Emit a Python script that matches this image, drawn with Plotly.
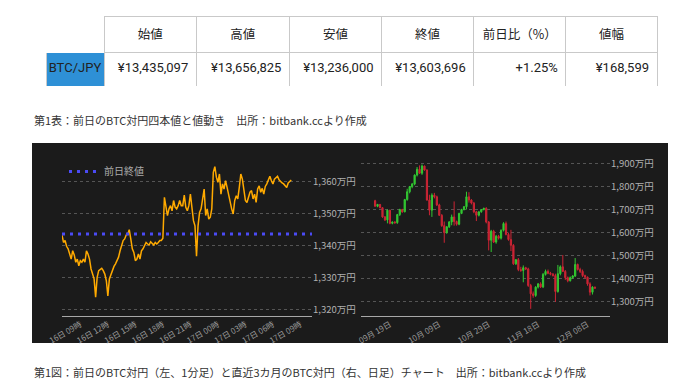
import plotly.graph_objects as go
import pandas as pd

# ---------------- table data ----------------
table_header = ["", "始値", "高値", "安値", "終値", "前日比（%）", "値幅"]
table_row = ["BTC/JPY", "¥13,435,097", "¥13,656,825", "¥13,236,000", "¥13,603,696", "+1.25%", "¥168,599"]
prev_close = 1343.5097  # 万円

# ---------------- left chart: previous day (10-min samples), 万円 ----------------
intraday_start = "2024-12-16 07:00"
intraday_values = [
    1343.2, 1340.9, 1341.5, 1339.7, 1338.9, 1337.3, 1335.7, 1338.3, 1337.0, 1334.7,
    1335.7, 1333.6, 1335.2, 1334.7, 1335.7, 1334.7, 1338.3, 1337.3, 1335.7, 1332.6,
    1331.0, 1329.5, 1323.8, 1330.0, 1332.1, 1332.6, 1332.8, 1332.1, 1331.0, 1329.0,
    1324.2, 1329.5, 1331.0, 1332.6, 1333.4, 1334.2, 1335.2, 1336.3, 1338.3, 1339.9,
    1341.5, 1342.0, 1343.2, 1343.5, 1344.9, 1342.0, 1338.9, 1337.8, 1335.2, 1335.7,
    1337.3, 1335.7, 1338.3, 1338.9, 1339.7, 1340.9, 1340.4, 1340.1, 1341.1, 1340.4,
    1340.1, 1340.9, 1340.4, 1340.9, 1341.5, 1341.5, 1342.2, 1355.0, 1351.4, 1349.3,
    1351.4, 1352.4, 1350.8, 1354.0, 1351.9, 1351.4, 1352.4, 1354.0, 1352.4, 1352.4,
    1355.7, 1351.9, 1350.8, 1352.4, 1356.0, 1351.4, 1347.7, 1346.1, 1336.6, 1346.1,
    1350.3, 1351.4, 1354.5, 1357.6, 1349.3, 1351.4, 1348.2, 1348.8, 1351.4, 1362.8,
    1364.6, 1361.3, 1359.7, 1362.3, 1356.0, 1359.2, 1357.6, 1360.2, 1358.1, 1355.5,
    1354.0, 1351.4, 1349.8, 1354.0, 1355.5, 1354.5, 1358.1, 1362.3, 1360.7, 1356.6,
    1354.0, 1353.4, 1355.5, 1356.6, 1357.1, 1354.5, 1356.0, 1353.4, 1357.6, 1358.6,
    1356.6, 1357.8, 1356.0, 1358.4, 1359.2, 1360.7, 1361.6, 1360.2, 1359.2, 1360.7,
    1361.3, 1361.6, 1360.5, 1359.9, 1359.5, 1359.2, 1358.6, 1358.1, 1359.5, 1359.9,
    1360.4,
]
intraday_ticks = ["2024-12-16 09:00", "2024-12-16 12:00", "2024-12-16 15:00", "2024-12-16 18:00",
                  "2024-12-16 21:00", "2024-12-17 00:00", "2024-12-17 03:00", "2024-12-17 06:00",
                  "2024-12-17 09:00"]
intraday_yticks = [1320, 1330, 1340, 1350, 1360]

# ---------------- right chart: daily candles (万円) ----------------
daily_start = "2024-09-13"
d_open = [1738, 1714, 1722, 1708, 1668, 1655, 1697, 1640, 1646, 1643,
          1678, 1700, 1690, 1743, 1777, 1799, 1810, 1849, 1874, 1857,
          1888, 1871, 1741, 1697, 1762, 1755, 1720, 1675, 1630, 1600,
          1625, 1646, 1668, 1648, 1636, 1683, 1700, 1712, 1755, 1741,
          1728, 1690, 1675, 1690, 1700, 1705, 1646, 1567, 1606, 1559,
          1584, 1576, 1610, 1639, 1592, 1570, 1545, 1465, 1483, 1440,
          1436, 1448, 1443, 1371, 1335, 1328, 1364, 1378, 1365, 1419,
          1432, 1424, 1420, 1414, 1345, 1422, 1452, 1432, 1405, 1392,
          1405, 1412, 1462, 1440, 1432, 1414, 1407, 1378, 1342, 1364]
d_high = [1742, 1724, 1724, 1710, 1672, 1700, 1699, 1648, 1649, 1681,
          1703, 1703, 1746, 1790, 1802, 1815, 1852, 1884, 1891, 1895,
          1890, 1874, 1764, 1770, 1772, 1760, 1725, 1680, 1648, 1628,
          1650, 1678, 1735, 1652, 1686, 1703, 1715, 1777, 1775, 1745,
          1733, 1694, 1692, 1702, 1708, 1710, 1650, 1612, 1612, 1590,
          1590, 1614, 1645, 1648, 1600, 1612, 1550, 1485, 1490, 1452,
          1458, 1452, 1448, 1378, 1345, 1368, 1382, 1385, 1425, 1440,
          1440, 1430, 1425, 1422, 1460, 1458, 1503, 1438, 1410, 1410,
          1416, 1490, 1466, 1448, 1440, 1418, 1410, 1385, 1368, 1366]
d_low = [1712, 1710, 1705, 1664, 1650, 1640, 1636, 1636, 1638, 1638,
         1672, 1686, 1688, 1738, 1770, 1792, 1805, 1843, 1855, 1850,
         1868, 1738, 1675, 1668, 1748, 1715, 1672, 1625, 1556, 1595,
         1620, 1632, 1630, 1630, 1632, 1680, 1696, 1700, 1730, 1722,
         1684, 1650, 1670, 1686, 1696, 1640, 1523, 1516, 1555, 1552,
         1570, 1570, 1605, 1588, 1565, 1520, 1460, 1460, 1433, 1430,
         1385, 1438, 1365, 1270, 1318, 1322, 1358, 1360, 1360, 1414,
         1420, 1415, 1410, 1300, 1340, 1415, 1430, 1395, 1385, 1388,
         1400, 1408, 1436, 1425, 1408, 1400, 1370, 1328, 1332, 1356]
d_close = [1714, 1722, 1708, 1668, 1655, 1697, 1640, 1646, 1643, 1678,
           1700, 1690, 1743, 1777, 1799, 1810, 1849, 1874, 1857, 1888,
           1871, 1741, 1697, 1762, 1755, 1720, 1675, 1630, 1600, 1625,
           1646, 1668, 1648, 1636, 1683, 1700, 1712, 1755, 1741, 1728,
           1690, 1675, 1690, 1700, 1705, 1646, 1567, 1606, 1559, 1584,
           1576, 1610, 1639, 1592, 1570, 1545, 1465, 1483, 1440, 1436,
           1448, 1443, 1371, 1335, 1328, 1364, 1378, 1365, 1419, 1432,
           1424, 1420, 1414, 1345, 1422, 1452, 1432, 1405, 1392, 1405,
           1412, 1462, 1440, 1432, 1414, 1407, 1378, 1342, 1364, 1360]
daily_ticks = ["2024-09-19", "2024-10-09", "2024-10-29", "2024-11-18", "2024-12-08"]
daily_yticks = [1300, 1400, 1500, 1600, 1700, 1800, 1900]

caption_table = "第1表：前日のBTC対円四本値と値動き　出所：bitbank.ccより作成"
caption_chart = "第1図：前日のBTC対円（左、1分足）と直近3カ月のBTC対円（右、日足）チャート　出所：bitbank.ccより作成"

# ---------------- build ----------------
W, H = 680, 388
def px(x):
    return x / W
def py(y):
    return 1 - y / H

JP = "Noto Sans CJK JP, Roboto, sans-serif"
NUM = "Roboto, Noto Sans CJK JP, sans-serif"
panel = "#1b1b1b"

t_intraday = pd.date_range(intraday_start, periods=len(intraday_values), freq="10min")
t_daily = pd.date_range(daily_start, periods=len(d_open), freq="D")

def lowered(s, size):
    # small empty first line pushes the real text down inside the cell
    return f"<br><span style='font-size:{size}px'>{s}</span>" if s else ""

fig = go.Figure()

border = "#c9c9c9"
fig.add_trace(go.Table(
    domain=dict(x=[px(46), px(657)], y=[py(86), py(16)]),
    columnwidth=[58, 92, 93, 92, 92, 92, 91],
    header=dict(values=[lowered(s, 12.5) for s in table_header], height=36,
                fill_color="white",
                line=dict(color=["white"] + [border] * 6, width=1),
                align="center",
                font=dict(family=JP, size=4, color="#222")),
    cells=dict(values=[[lowered(v, 13)] for v in table_row], height=34,
               fill_color=[["#2e90d6"]] + [["white"]] * 6,
               line=dict(color=border, width=1),
               align=["center"] + ["right"] * 6,
               font=dict(family=NUM, size=3, color="#222")),
))

fig.add_trace(go.Scatter(
    x=t_intraday, y=intraday_values, mode="lines",
    line=dict(color="#ffaa00", width=1.5), showlegend=False,
    xaxis="x", yaxis="y", hoverinfo="skip"))

fig.add_trace(go.Scatter(
    x=[t_intraday[0], pd.Timestamp(intraday_start) + pd.Timedelta(hours=27.26)],
    y=[prev_close, prev_close], mode="lines", name="前日終値",
    line=dict(color="#4b4bf5", width=3, dash="3px,5px"),
    xaxis="x", yaxis="y", hoverinfo="skip"))

fig.add_trace(go.Candlestick(
    x=t_daily, open=d_open, high=d_high, low=d_low, close=d_close,
    increasing=dict(line=dict(color="#32c832", width=1), fillcolor="#32c832"),
    decreasing=dict(line=dict(color="#cc2434", width=1), fillcolor="#cc2434"),
    whiskerwidth=0, showlegend=False, xaxis="x2", yaxis="y2", hoverinfo="skip"))

tickfont = dict(family=JP, size=8, color="#9a9a9a")
yfont = dict(family=JP, size=9.5, color="#b0b0b0")
grid = dict(showgrid=True, gridcolor="#555555", griddash="dot", gridwidth=1)

x0 = pd.Timestamp(intraday_start)
fig.update_layout(
    width=W, height=H, margin=dict(l=0, r=0, t=0, b=0, pad=0, autoexpand=False),
    paper_bgcolor="white", plot_bgcolor=panel,
    font=dict(family=JP),
    shapes=[dict(type="rect", xref="paper", yref="paper", x0=px(32), x1=px(668),
                 y0=py(343), y1=py(143), fillcolor=panel, line=dict(width=0), layer="below")],
    xaxis=dict(domain=[px(62), px(312)], type="date", automargin=False,
               range=[x0, x0 + pd.Timedelta(hours=27.26)],
               tickvals=intraday_ticks, tickformat="%d日 %H時", tickangle=-30,
               tickfont=tickfont, showgrid=False, zeroline=False,
               showline=True, linecolor="#a8a8a8", linewidth=1, ticks="",
               anchor="y", rangeslider=dict(visible=False)),
    yaxis=dict(domain=[py(316), py(150)], range=[1317.9, 1369.8], side="right", automargin=False,
               tickvals=intraday_yticks, ticktext=[f"{v:,}万円" for v in intraday_yticks],
               tickfont=yfont, zeroline=False, anchor="x", **grid),
    xaxis2=dict(domain=[px(361), px(610)], type="date", automargin=False,
                range=[pd.Timestamp(daily_start) - pd.Timedelta(days=5.7),
                       pd.Timestamp(daily_start) + pd.Timedelta(days=95.1)],
                tickvals=daily_ticks, tickformat="%m月 %d日", tickangle=-30,
                tickfont=tickfont, showgrid=False, zeroline=False,
                showline=True, linecolor="#a8a8a8", linewidth=1, ticks="",
                anchor="y2", rangeslider=dict(visible=False)),
    yaxis2=dict(domain=[py(316), py(150)], range=[1239, 1957.6], side="right", automargin=False,
                tickvals=daily_yticks, ticktext=[f"{v:,}万円" for v in daily_yticks],
                tickfont=yfont, zeroline=False, anchor="x2", **grid),
    legend=dict(x=px(64), y=py(157), xanchor="left", yanchor="top",
                bgcolor="rgba(0,0,0,0)", font=dict(family=JP, size=10, color="#aaaaaa"),
                itemwidth=30),
    annotations=[
        dict(text=caption_table, xref="paper", yref="paper", x=px(32), y=py(120),
             xanchor="left", yanchor="middle", showarrow=False,
             font=dict(family=JP, size=11, color="#333")),
        dict(text=caption_chart, xref="paper", yref="paper", x=px(32), y=py(372),
             xanchor="left", yanchor="middle", showarrow=False,
             font=dict(family=JP, size=11, color="#333")),
    ],
)

fig.write_html("out.html", config=dict(displayModeBar=False),
               post_script="document.body.style.margin='0';document.body.style.overflow='hidden';")
